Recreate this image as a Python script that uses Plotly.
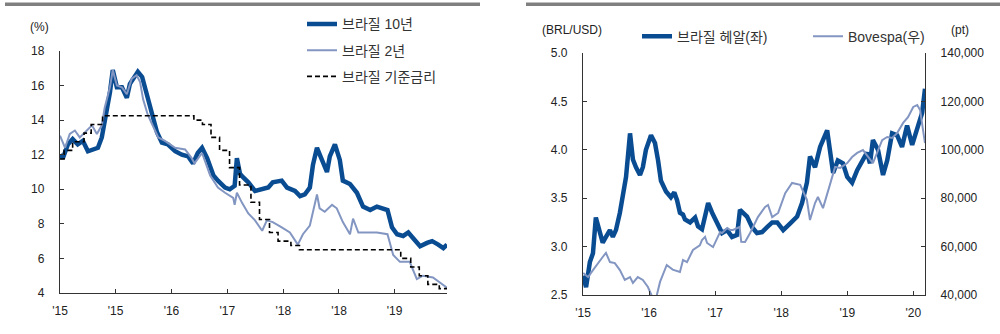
import plotly.graph_objects as go

# ---------------- Left chart: Brazil yields & policy rate (%) ----------------
y10_dates = ["2015-01-01","2015-01-15","2015-02-09","2015-03-04","2015-03-29","2015-04-23","2015-05-18","2015-06-11",
             "2015-07-06","2015-07-25","2015-08-19","2015-09-03","2015-09-17","2015-10-07","2015-11-01","2015-11-25",
             "2015-12-10","2016-01-04","2016-01-18","2016-02-08","2016-03-03","2016-03-28","2016-04-21","2016-05-15",
             "2016-06-13","2016-07-19","2016-08-21","2016-09-21","2016-10-15","2016-11-07","2016-11-28","2016-12-23",
             "2017-01-23","2017-02-14","2017-03-21","2017-04-13","2017-05-07","2017-05-18","2017-06-02","2017-06-17",
             "2017-07-13","2017-08-15","2017-09-19","2017-10-19","2017-11-10","2017-12-24","2018-01-19","2018-02-27",
             "2018-03-24","2018-04-16","2018-05-11","2018-05-26","2018-06-15","2018-07-08","2018-08-03","2018-08-17",
             "2018-09-11","2018-10-05","2018-10-20","2018-11-24","2018-12-28","2019-01-27","2019-03-03","2019-04-05",
             "2019-05-01","2019-05-27","2019-06-18","2019-07-13","2019-08-12","2019-09-06","2019-09-28","2019-11-03",
             "2019-12-07","2020-01-01","2020-01-31","2020-02-25","2020-03-14"]
y10_values = [12.0,11.8,12.6,12.9,12.6,12.8,12.2,12.3,12.4,13.0,14.5,15.6,16.9,15.9,15.9,15.3,16.1,
              16.5,16.8,16.5,15.4,14.5,13.3,12.7,12.6,12.2,12.0,11.9,11.5,12.1,12.4,11.8,
              10.8,10.5,10.1,10.0,10.2,11.8,10.9,10.7,10.4,9.9,10.0,10.1,10.4,10.5,
              10.1,9.9,9.6,9.7,10.1,11.4,12.4,11.7,11.0,11.9,12.6,11.7,10.5,10.3,9.8,
              9.0,8.8,9.0,8.9,8.8,7.8,7.4,7.3,7.5,7.2,6.7,6.9,7.0,6.8,6.6,6.8]

y2_dates = ["2015-01-01","2015-01-26","2015-02-18","2015-03-15","2015-04-08","2015-05-03","2015-06-07","2015-07-01",
            "2015-07-25","2015-08-08","2015-09-03","2015-09-17","2015-10-07","2015-11-01","2015-11-25","2015-12-19",
            "2016-01-12","2016-01-29","2016-02-13","2016-03-07","2016-04-02","2016-04-27","2016-05-30","2016-07-19",
            "2016-09-06","2016-10-08","2016-10-22","2016-11-28","2017-01-07","2017-02-14","2017-03-21","2017-04-13",
            "2017-04-30","2017-05-07","2017-05-18","2017-06-13","2017-07-13","2017-08-15","2017-09-19","2017-10-12",
            "2017-11-10","2017-12-24","2018-02-02","2018-03-13","2018-04-07","2018-05-11","2018-06-15","2018-06-28",
            "2018-07-23","2018-08-28","2018-09-20","2018-10-20","2018-11-24","2018-12-09","2019-01-04","2019-02-17",
            "2019-04-05","2019-05-27","2019-06-24","2019-07-27","2019-09-13","2019-10-18","2019-11-17","2020-01-05",
            "2020-02-09","2020-03-14"]
y2_values = [13.1,12.4,13.2,13.4,13.0,13.3,13.7,13.2,13.7,14.7,15.9,16.9,16.0,15.9,15.5,16.4,
             16.6,16.2,15.2,14.3,13.6,13.0,12.8,12.4,12.3,11.8,11.5,12.1,10.8,10.1,9.8,9.6,
             9.5,9.1,9.8,9.2,8.6,8.2,7.6,8.2,8.1,7.8,7.5,6.8,7.4,7.9,9.7,8.9,
             8.7,9.1,8.9,8.1,7.4,8.3,7.5,7.5,7.5,7.4,6.2,5.8,5.8,4.8,5.0,4.9,
             4.6,4.3]

selic_dates = ["2015-01-01","2015-01-21","2015-03-04","2015-04-29","2015-06-03","2015-07-29","2016-10-19","2016-11-30",
               "2017-01-11","2017-02-22","2017-04-12","2017-05-31","2017-07-26","2017-09-06","2017-10-25","2017-12-06",
               "2018-02-07","2018-03-21","2019-07-31","2019-09-18","2019-10-30","2019-12-11","2020-02-05","2020-03-14"]
selic_values = [11.75,12.25,12.75,13.25,13.75,14.25,14.0,13.75,13.0,12.25,11.25,10.25,9.25,8.25,7.5,7.0,
                6.75,6.5,6.0,5.5,5.0,4.5,4.25,4.25]

# ---------------- Right chart: BRL/USD (left) & Bovespa (right) ----------------
brl_dates = ["2015-01-02","2015-01-18","2015-02-08","2015-02-25","2015-03-13","2015-04-04","2015-04-20","2015-05-08",
             "2015-05-30","2015-06-15","2015-07-02","2015-07-24","2015-08-10","2015-08-27","2015-09-18","2015-10-04",
             "2015-10-21","2015-11-12","2015-11-28","2015-12-15","2016-01-12","2016-02-03","2016-02-20","2016-03-07",
             "2016-04-04","2016-05-01","2016-05-20","2016-06-04","2016-06-20","2016-07-07","2016-07-18","2016-08-15",
             "2016-09-12","2016-09-28","2016-10-20","2016-11-23","2016-12-15","2017-01-12","2017-02-08","2017-03-08",
             "2017-04-04","2017-05-02","2017-05-18","2017-06-26","2017-07-24","2017-08-20","2017-09-17","2017-10-15",
             "2017-11-12","2017-12-10","2018-01-12","2018-02-20","2018-03-30","2018-04-26","2018-05-23","2018-06-09",
             "2018-07-07","2018-08-04","2018-09-12","2018-09-27","2018-10-15","2018-11-10","2018-12-08","2019-01-01",
             "2019-01-28","2019-02-25","2019-03-29","2019-04-20","2019-05-07","2019-05-23","2019-06-20","2019-07-18",
             "2019-08-10","2019-09-06","2019-10-04","2019-10-31","2019-11-28","2019-12-26","2020-01-28","2020-02-19",
             "2020-03-06"]
brl_values = [2.70,2.58,2.84,2.93,3.30,3.14,3.04,3.10,3.17,3.10,3.17,3.35,3.51,3.72,4.17,3.90,
              3.82,3.74,3.82,4.00,4.15,4.07,3.89,3.68,
              3.57,3.51,3.56,3.48,3.35,3.33,3.28,3.25,
              3.30,3.21,3.18,3.45,3.35,3.24,3.14,3.17,
              3.10,3.12,3.38,3.31,3.20,3.14,3.15,3.20,
              3.25,3.25,3.17,3.24,3.31,3.45,3.66,3.93,
              3.82,4.03,4.20,4.00,3.76,3.89,3.86,3.72,
              3.66,3.79,3.89,3.97,3.86,4.10,4.00,3.74,
              3.89,4.17,4.15,4.03,4.25,4.05,4.25,4.38,
              4.63]

bov_dates = ["2015-01-02","2015-01-29","2015-02-25","2015-03-24","2015-04-20","2015-05-08","2015-05-30","2015-06-26",
             "2015-07-24","2015-08-20","2015-09-18","2015-10-04","2015-10-31","2015-11-28","2015-12-26","2016-01-23",
             "2016-02-10","2016-03-02","2016-04-08","2016-05-11","2016-06-20","2016-07-07","2016-07-29","2016-08-31",
             "2016-10-08","2016-10-20","2016-11-06","2016-11-17","2016-12-20","2017-01-28","2017-02-08","2017-03-08",
             "2017-03-24","2017-04-09","2017-05-16","2017-05-25","2017-06-15","2017-07-13","2017-08-25","2017-10-04",
             "2017-10-20","2017-11-12","2017-12-15","2018-01-23","2018-03-02","2018-04-16","2018-05-23","2018-06-09",
             "2018-07-07","2018-07-23","2018-08-20","2018-09-27","2018-10-26","2018-11-23","2019-01-01","2019-01-28",
             "2019-02-25","2019-03-29","2019-04-27","2019-05-23","2019-06-15","2019-07-13","2019-08-10","2019-09-06",
             "2019-10-04","2019-11-06","2019-12-03","2020-01-01","2020-01-23","2020-02-08","2020-02-24","2020-03-06"]
bov_values = [49100,47400,50300,53200,55700,57400,53600,53200,
              50300,46200,47400,45000,47400,46200,43300,38500,
              39000,45400,52400,50500,49500,54500,53600,58600,
              60500,62700,64000,61500,59800,66000,65600,67700,
              66900,66900,68100,62000,61900,65600,72200,76400,
              77200,72200,73900,82100,86300,85500,79300,71000,
              78000,80500,75900,85500,92900,92500,94500,97000,
              98700,99900,97000,94500,98700,104000,105300,104900,
              106900,111100,113500,117700,118500,116400,108200,102800]

DARK = "#0a4c92"
LIGHT = "#8396c2"
AXIS = "#333333"
FONT = "Arial, 'Liberation Sans', 'Noto Sans CJK KR', sans-serif"

fig = go.Figure()
fig.add_trace(go.Scatter(x=y10_dates, y=y10_values, name="브라질 10년", mode="lines",
                         line=dict(color=DARK, width=4.5), xaxis="x", yaxis="y",
                         legend="legend", legendgroup="a"))
fig.add_trace(go.Scatter(x=y2_dates, y=y2_values, name="브라질 2년", mode="lines",
                         line=dict(color=LIGHT, width=2), xaxis="x", yaxis="y",
                         legend="legend", legendgroup="b"))
fig.add_trace(go.Scatter(x=selic_dates, y=selic_values, name="브라질 기준금리", mode="lines",
                         line=dict(color="#000000", width=1.6, dash="5px,3px", shape="hv"),
                         xaxis="x", yaxis="y", legend="legend", legendgroup="c"))
fig.add_trace(go.Scatter(x=brl_dates, y=brl_values, name="브라질 헤알(좌)", mode="lines",
                         line=dict(color=DARK, width=4.5), xaxis="x2", yaxis="y2", legend="legend2"))
fig.add_trace(go.Scatter(x=bov_dates, y=bov_values, name="Bovespa(우)", mode="lines",
                         line=dict(color=LIGHT, width=2), xaxis="x2", yaxis="y3", legend="legend2"))

axis_common = dict(showline=True, linecolor=AXIS, linewidth=1.3, ticks="inside", ticklen=4,
                   tickcolor=AXIS, tickwidth=1.2, showgrid=False, zeroline=False, automargin=False,
                   tickfont=dict(family=FONT, size=12, color="#222222"))

fig.update_layout(
    width=1000, height=334,
    margin=dict(l=0, r=0, t=0, b=0, autoexpand=False),
    paper_bgcolor="white", plot_bgcolor="white",
    font=dict(family=FONT, size=12, color="#222222"),
    xaxis=dict(domain=[0.060, 0.447], type="date", range=["2015-01-01", "2020-03-14"],
               tick0="2015-01-01", dtick="M9", tickformat="'%y", anchor="y",
               ticklabelstandoff=6, **axis_common),
    yaxis=dict(domain=[0.1228, 0.8473], range=[4, 18], dtick=2, anchor="x",
               ticklabelstandoff=12, **axis_common),
    xaxis2=dict(domain=[0.583, 0.925], type="date", range=["2015-01-01", "2020-03-06"],
                tick0="2015-01-01", dtick="M12", tickformat="'%y", anchor="y2",
                ticklabelstandoff=6, **axis_common),
    yaxis2=dict(domain=[0.1168, 0.8413], range=[2.5, 5.0], dtick=0.5, tickformat=".1f",
                anchor="x2", ticklabelstandoff=12, **axis_common),
    yaxis3=dict(domain=[0.1168, 0.8413], range=[40000, 140000], dtick=20000, tickformat=",d",
                overlaying="y2", side="right", anchor="x2", ticklabelstandoff=12, **axis_common),
    legend=dict(x=0.302, y=0.975, xanchor="left", yanchor="top", orientation="v",
                bgcolor="rgba(0,0,0,0)", tracegroupgap=5,
                font=dict(family=FONT, size=14, color="#333333")),
    legend2=dict(x=0.637, y=0.938, xanchor="left", yanchor="top", orientation="h",
                 bgcolor="rgba(0,0,0,0)", entrywidth=126,
                 font=dict(family=FONT, size=14, color="#333333")),
    showlegend=True,
)

# top separator bars
fig.add_shape(type="line", xref="paper", yref="paper", x0=0.005, x1=0.48, y0=0.987, y1=0.987,
              line=dict(color="#808080", width=3.5))
fig.add_shape(type="line", xref="paper", yref="paper", x0=0.526, x1=1.0, y0=0.987, y1=0.987,
              line=dict(color="#808080", width=3.5))

# axis unit labels
unit_font = dict(family=FONT, size=12, color="#222222")
fig.add_annotation(text="(%)", xref="paper", yref="paper", x=0.039, y=0.919, showarrow=False,
                   xanchor="center", yanchor="middle", font=unit_font)
fig.add_annotation(text="(BRL/USD)", xref="paper", yref="paper", x=0.572, y=0.91, showarrow=False,
                   xanchor="center", yanchor="middle", font=unit_font)
fig.add_annotation(text="(pt)", xref="paper", yref="paper", x=0.960, y=0.91, showarrow=False,
                   xanchor="center", yanchor="middle", font=unit_font)

fig.write_html("out.html")
